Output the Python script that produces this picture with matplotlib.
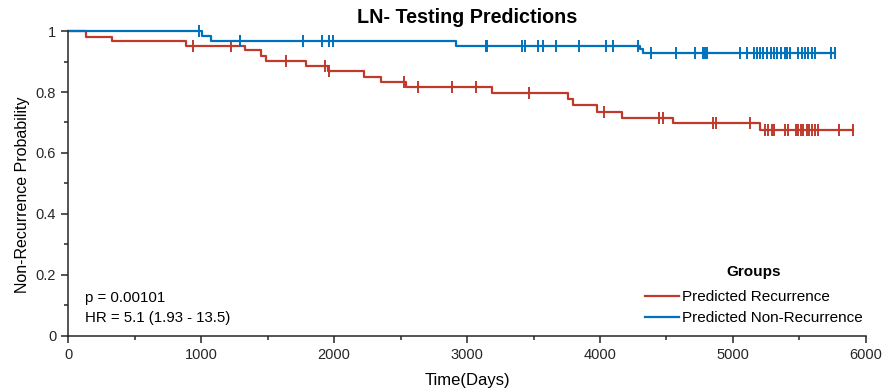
import numpy as np
import matplotlib.pyplot as plt
from matplotlib.ticker import MultipleLocator

plt.rcParams['font.family'] = ['Liberation Sans', 'DejaVu Sans']

# Kaplan-Meier steps (time in days, survival after the step)
red_event_t = [135, 328, 887, 1331, 1451, 1486, 1789, 1957, 2227, 2357, 2540,
               3186, 3762, 3800, 3980, 4163, 4551, 5205]
red_surv = [0.979, 0.967, 0.951, 0.938, 0.918, 0.903, 0.885, 0.868, 0.850, 0.834,
            0.815, 0.798, 0.777, 0.757, 0.735, 0.716, 0.697, 0.675]
red_censor_t = [942, 1223, 1636, 1932, 1962, 2526, 2632, 2889, 3066, 3466, 4030,
                4446, 4471, 4852, 4872, 5128, 5241, 5266, 5291, 5311, 5391, 5416,
                5474, 5490, 5508, 5525, 5554, 5575, 5596, 5617, 5641, 5800, 5905]

blue_event_t = [1008, 1073, 2917, 4300, 4320]
blue_surv = [0.984, 0.967, 0.951, 0.940, 0.929]
blue_censor_t = [985, 1293, 1764, 1910, 1960, 1990, 3140, 3152, 3411, 3436, 3536,
                 3574, 3669, 3842, 4043, 4095, 4288, 4381, 4571, 4714, 4772, 4787,
                 4802, 5053, 5103, 5158, 5178, 5203, 5228, 5253, 5283, 5311, 5333,
                 5358, 5391, 5409, 5429, 5491, 5516, 5541, 5566, 5596, 5617, 5735,
                 5765]

groups = ['Predicted Recurrence', 'Predicted Non-Recurrence']
colors = ['#BF3A2B', '#0072BD']
y_ticks = [0, 0.2, 0.4, 0.6, 0.8, 1]
y_tick_labels = ['0', '0.2', '0.4', '0.6', '0.8', '1']
p_text = 'p = 0.00101'
hr_text = 'HR = 5.1 (1.93 - 13.5)'

fig = plt.figure(figsize=(8.86, 3.92), dpi=100)
ax = fig.add_axes([0.0768, 0.1429, 0.9006, 0.778])


def km_curve(event_t, surv, censor_t):
    t = np.concatenate([[0], event_t, [max(censor_t)]])
    s = np.concatenate([[1.0], surv, [surv[-1]]])
    idx = np.searchsorted(event_t, censor_t, side='right')
    s_all = np.concatenate([[1.0], surv])
    return t, s, np.array(censor_t), s_all[idx]


data = [(red_event_t, red_surv, red_censor_t), (blue_event_t, blue_surv, blue_censor_t)]
for (ev, sv, cs), name, c in zip(data, groups, colors):
    t, s, ct, cy = km_curve(ev, sv, cs)
    ax.step(t, s, where='post', color=c, lw=1.6, label=name, clip_on=False)
    ax.plot(ct, cy, ls='none', marker='|', ms=9, mew=1.4, color=c, clip_on=False)

ax.set_xlim(0, 6000)
ax.set_ylim(0, 1)
ax.set_yticks(y_ticks)
ax.set_yticklabels(y_tick_labels)
ax.xaxis.set_minor_locator(MultipleLocator(500))
ax.yaxis.set_minor_locator(MultipleLocator(0.1))
ax.tick_params(which='both', direction='out', colors='#262626', labelsize=10.5, width=1.1)
ax.tick_params(which='major', length=5)
ax.tick_params(which='minor', length=3)
for side in ['top', 'right']:
    ax.spines[side].set_visible(False)
for side in ['left', 'bottom']:
    ax.spines[side].set_color('#262626')
    ax.spines[side].set_linewidth(1.1)

ax.set_title('LN- Testing Predictions', fontsize=14.2, fontweight='bold', pad=6)
ax.set_xlabel('Time(Days)', fontsize=12, labelpad=8)
ax.set_ylabel('Non-Recurrence Probability', fontsize=11.5)
ax.yaxis.set_label_coords(-0.048, 0.464)

ax.text(0.021, 0.125, p_text, transform=ax.transAxes, fontsize=10.8, va='center')
ax.text(0.021, 0.06, hr_text, transform=ax.transAxes, fontsize=10.8, va='center')

leg = ax.legend(loc='lower right', bbox_to_anchor=(1.009, 0.0), frameon=False,
                fontsize=11, title='Groups', handlelength=2.2, handletextpad=0.2,
                labelspacing=0.45, borderaxespad=0.3)
leg.get_title().set_fontweight('bold')
leg.get_title().set_fontsize(11)
leg._legend_box.sep = 8

fig.savefig('out.png', dpi=100)
